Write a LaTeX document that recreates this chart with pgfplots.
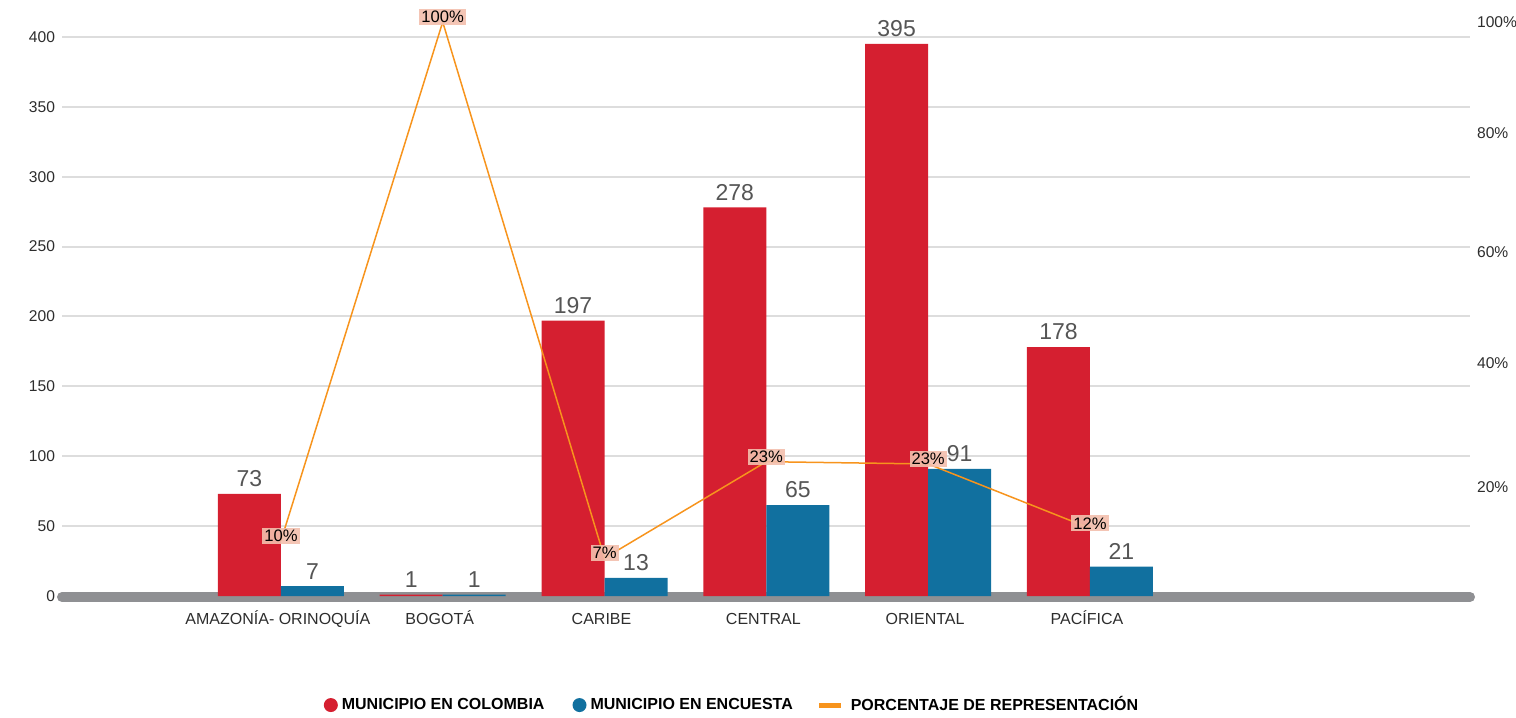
\documentclass[border=0pt]{standalone}
\usepackage{pgfplots}
\pgfplotsset{compat=1.18}
\usepackage{fontspec}
\setmainfont{Liberation Sans}
\definecolor{barred}{RGB}{213,31,48}
\definecolor{barblue}{RGB}{17,112,159}
\definecolor{lineor}{RGB}{247,148,29}
\definecolor{gridc}{RGB}{221,221,221}
\definecolor{basec}{RGB}{143,144,147}
\definecolor{labc}{RGB}{85,85,85}
\definecolor{tickc}{RGB}{45,45,45}
\definecolor{boxc}{RGB}{243,191,173}
\pgfplotsset{set layers}

\begin{document}
\begin{tikzpicture}
\begin{axis}[
  scale only axis, width=704pt, height=287pt,
  xmin=-1.353, xmax=7.349, ymin=0, ymax=410.7,
  clip=false,
  axis line style={draw=none}, major tick length=0pt,
  ytick={0,50,...,400}, ymajorgrids, grid style={line width=1pt, gridc},
  xtick={0,...,5},
  xticklabels={AMAZONÍA- ORINOQUÍA, BOGOTÁ, CARIBE, CENTRAL, ORIENTAL, PACÍFICA},
  xticklabel style={anchor=base, yshift=-14pt, xshift=-1.5pt, font=\fontsize{8}{9}\selectfont, text=tickc},
  yticklabel style={font=\fontsize{7.8}{9}\selectfont, text=tickc},
  /pgf/number format/assume math mode=true,
  ybar=0pt, bar width=31.5pt,
  nodes near coords,
  every node near coord/.append style={font=\fontsize{11.5}{13}\selectfont, text=labc},
  legend style={at={(0.4766,-0.19)}, anchor=center, draw=none, fill=none,
    font=\bfseries\fontsize{8}{9}\selectfont, legend columns=3},
]
\coordinate (pSW) at (rel axis cs:0,0);
\coordinate (pNE) at (rel axis cs:1,1);
\draw[on layer=axis background, basec, line width=5pt, line cap=round]
  ([yshift=-0.5pt]rel axis cs:0,0) -- ([yshift=-0.5pt]rel axis cs:1,0);
\addplot[fill=barred, draw=none,
  legend image code/.code={\fill[barred] (0pt,0pt) circle (3.5pt);}]
  coordinates {(0,73) (1,1) (2,197) (3,278) (4,395) (5,178)};
\addlegendentry{MUNICIPIO EN COLOMBIA\kern12pt}
\addplot[fill=barblue, draw=none,
  legend image code/.code={\fill[barblue] (0pt,0pt) circle (3.5pt);}]
  coordinates {(0,7) (1,1) (2,13) (3,65) (4,91) (5,21)};
\addlegendentry{MUNICIPIO EN ENCUESTA\kern10pt}
\addlegendimage{legend image code/.code={\draw[lineor, line width=2.5pt] (0pt,0pt) -- (11pt,0pt); \path (13.5pt,0pt);}}
\addlegendentry{PORCENTAJE DE REPRESENTACIÓN}
\end{axis}

\begin{axis}[
  scale only axis, width=704pt, height=287pt,
  xmin=-1.353, xmax=7.349, ymin=0, ymax=100,
  axis x line=none, axis y line*=right,
  axis line style={draw=none}, major tick length=0pt,
  ytick={19.0,40.6,59.9,80.7,100},
  yticklabels={20\%,40\%,60\%,80\%,100\%},
  yticklabel style={font=\fontsize{7.8}{9}\selectfont, text=tickc},
  clip=false,
]
\addplot[lineor, line width=0.75pt, mark=none,
  nodes near coords={\pgfmathprintnumber[fixed,precision=0]{\pgfplotspointmeta}\%},
  every node near coord/.append style={font=\fontsize{8.3}{10}\selectfont, text=black,
    fill=boxc, fill opacity=0.9, text opacity=1, inner sep=1pt, anchor=center, yshift=2.5pt},
  /pgf/number format/assume math mode=true]
  coordinates {(0,9.6) (1,100) (2,6.6) (3,23.4) (4,23.0) (5,11.8)};
\end{axis}
\pgfresetboundingbox
\useasboundingbox ([xshift=-31pt,yshift=-60.5pt]pSW) rectangle ([xshift=23pt,yshift=11pt]pNE);
\end{tikzpicture}
\end{document}
